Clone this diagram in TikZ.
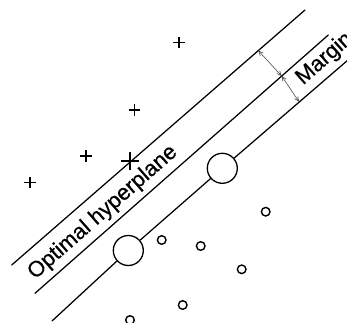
\documentclass[tikz,border=0pt]{standalone}
\usepackage{fontspec}
\setmainfont{Liberation Sans}
\newfontfamily\labfont{Liberation Sans}[FakeBold=0.6]
\usetikzlibrary{arrows.meta,shapes.misc}
\begin{document}
\begin{tikzpicture}[x=1pt,y=-1pt,
  hyper/.style={line width=1.25pt,line cap=round},
  plusmark/.style={cross out,draw,rotate=45,inner sep=0pt,minimum size=6.6pt,line width=1.2pt},
  starmark/.style={cross out,draw,rotate=45,inner sep=0pt,minimum size=10.5pt,line width=1.7pt},
  bigdot/.style={circle,draw,fill=white,inner sep=0pt,minimum size=30pt,line width=1.3pt},
  smalldot/.style={circle,draw,inner sep=0pt,minimum size=8.6pt,line width=1.4pt},
  margarrow/.style={line width=0.55pt,draw=black!75,{Straight Barb[length=4.5pt,width=4pt]}-{Straight Barb[length=4.5pt,width=4pt]}},
  lab/.style={font=\labfont\fontsize{22}{24}\selectfont,inner sep=0pt,rotate=41.4,anchor=base west}]
\useasboundingbox (0,0) rectangle (347,322);
\clip (0,0) rectangle (347,322);
% lines
\coordinate (t0) at (11.7,265);
\coordinate (t1) at (305,10);
\coordinate (m0) at (35,293.3);
\coordinate (m1) at (328.3,35);
\coordinate (b0) at (52,321);
\coordinate (b1) at (348,60);
\draw[hyper] (t0) -- (t1);
\draw[hyper] (m0) -- (m1);
% support circles
\node[bigdot] (c1) at (128.3,250.5) {};
\node[bigdot] (c2) at (222.3,168.3) {};
\draw[hyper] (b0) -- (c1) -- (c2) -- (b1);
% small circles
\node[smalldot] (o1) at (265.7,211.7) {};
\node[smalldot] (o2) at (161.7,240) {};
\node[smalldot] (o3) at (200.7,246) {};
\node[smalldot] (o4) at (241.7,269.3) {};
\node[smalldot] (o5) at (182.7,305) {};
\node[smalldot] (o6) at (130,320) {};
% plus signs
\node[plusmark] (p1) at (179,42.3) {};
\node[plusmark] (p2) at (134.3,110) {};
\node[plusmark] (p3) at (86,156) {};
\node[plusmark] (p4) at (30,182.5) {};
\node[starmark] (s1) at (130,161) {};
% margin arrows
\coordinate (a1) at (258.3,50.6);
\coordinate (a2) at (281.7,76);
\coordinate (a3) at (299,101.7);
\draw[margarrow] (a1) -- (a2);
\draw[margarrow] (a2) -- (a3);
% labels
\node[lab] (opt) at (35,280) {Optimal hyperplane};
\node[lab] (mar) at (303,85.5) {Margin};
\end{tikzpicture}
\end{document}
